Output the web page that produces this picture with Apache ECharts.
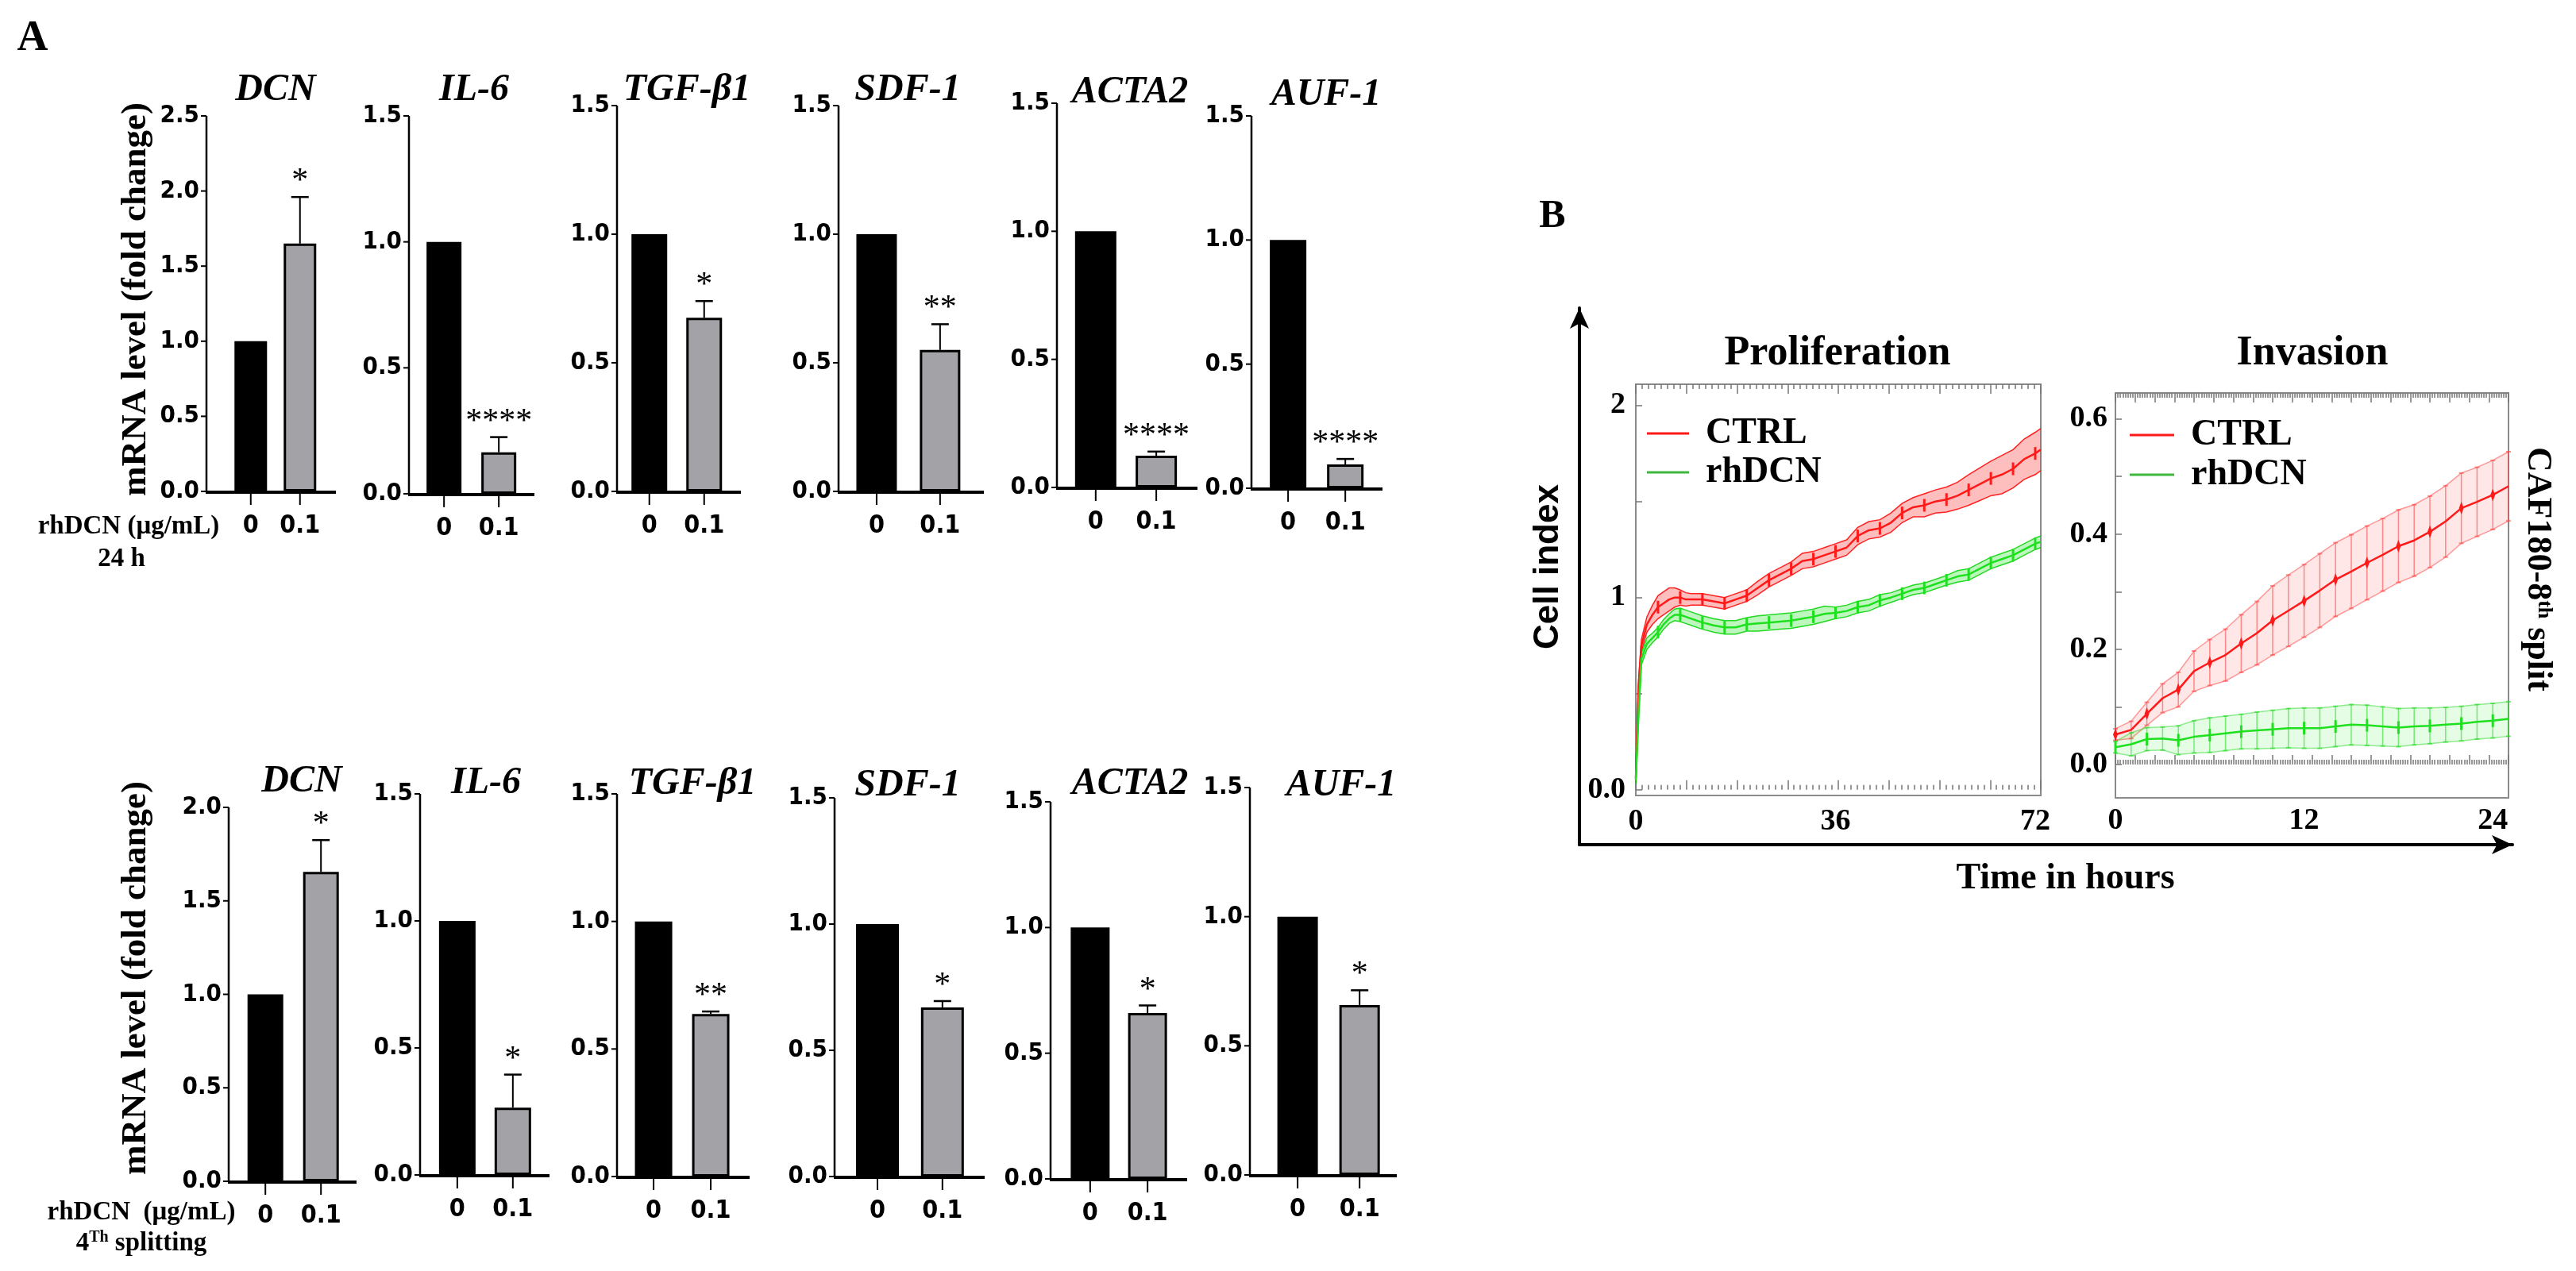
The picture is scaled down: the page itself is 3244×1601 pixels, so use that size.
<!DOCTYPE html>
<html>
<head>
<meta charset="utf-8">
<script src="https://cdn.jsdelivr.net/npm/echarts@6/dist/echarts.min.js"></script>
<style>
  html, body { margin: 0; padding: 0; background: #fff; }
  #chart { width: 3244px; height: 1601px; }
</style>
</head>
<body>
<div id="chart"></div>
<script>
// ---- panel A : qPCR bars ----
var genes = ['DCN', 'IL-6', 'TGF-β1', 'SDF-1', 'ACTA2', 'AUF-1'];
var doses = ['0', '0.1'];

var ctrl24h = [1, 1, 1, 1, 1, 1];
var rhdcn24h = [1.65, 0.165, 0.675, 0.55, 0.124, 0.096];
var sem24h = [0.31, 0.06, 0.065, 0.10, 0.016, 0.022];
var stars24h = ['*', '****', '*', '**', '****', '****'];
var yMax24h = [2.5, 1.5, 1.5, 1.5, 1.5, 1.5];

var ctrlSplit = [1, 1, 1, 1, 1, 1];
var rhdcnSplit = [1.655, 0.265, 0.637, 0.67, 0.66, 0.658];
var semSplit = [0.17, 0.13, 0.01, 0.025, 0.03, 0.057];
var starsSplit = ['*', '*', '**', '*', '*', '*'];
var yMaxSplit = [2.0, 1.5, 1.5, 1.5, 1.5, 1.5];

// ---- panel B : xCELLigence curves ----
var prolifHours = [0, 0.5, 1, 2, 3, 4, 5, 6, 7, 8, 9, 10, 12, 14, 16, 18, 20, 22, 24, 26, 28, 30, 32, 34, 36, 38,
  40, 42, 44, 46, 48, 50, 52, 54, 56, 58, 60, 62, 64, 66, 68, 70, 72, 73];
var prolifCtrl = [0.06, 0.54, 0.75, 0.86, 0.91, 0.95, 0.97, 0.99, 1.00, 1.00, 0.99, 0.99, 0.99, 0.98, 0.97, 0.99,
  1.01, 1.05, 1.09, 1.12, 1.15, 1.19, 1.20, 1.22, 1.24, 1.26, 1.32, 1.35, 1.36, 1.39, 1.44, 1.47, 1.48, 1.50,
  1.51, 1.53, 1.56, 1.59, 1.62, 1.64, 1.67, 1.72, 1.75, 1.77];
var prolifCtrlSd = [0.02, 0.03, 0.03, 0.04, 0.05, 0.06, 0.06, 0.06, 0.05, 0.04, 0.035, 0.03, 0.03, 0.03, 0.03, 0.03,
  0.03, 0.035, 0.035, 0.035, 0.035, 0.04, 0.04, 0.04, 0.04, 0.04, 0.045, 0.045, 0.045, 0.05, 0.05, 0.05, 0.06, 0.06,
  0.065, 0.07, 0.08, 0.085, 0.09, 0.1, 0.1, 0.105, 0.11, 0.11];
var prolifDcn = [0.05, 0.40, 0.68, 0.76, 0.79, 0.82, 0.86, 0.89, 0.91, 0.91, 0.90, 0.89, 0.87, 0.855, 0.845, 0.845,
  0.86, 0.865, 0.87, 0.875, 0.88, 0.89, 0.90, 0.915, 0.92, 0.93, 0.95, 0.96, 0.985, 1.00, 1.02, 1.04, 1.05, 1.07,
  1.09, 1.11, 1.12, 1.15, 1.18, 1.20, 1.22, 1.25, 1.28, 1.29];
var prolifDcnSd = [0.02, 0.03, 0.03, 0.03, 0.025, 0.025, 0.025, 0.025, 0.03, 0.035, 0.035, 0.035, 0.035, 0.035, 0.035,
  0.035, 0.035, 0.04, 0.04, 0.04, 0.04, 0.04, 0.04, 0.04, 0.03, 0.03, 0.03, 0.03, 0.03, 0.025, 0.025, 0.025, 0.025,
  0.025, 0.025, 0.03, 0.03, 0.03, 0.03, 0.03, 0.03, 0.03, 0.03, 0.03];

var invHours = [0, 1, 2, 3, 4, 5, 6, 7, 8, 9, 10, 11, 12, 13, 14, 15, 16, 17, 18, 19, 20, 21, 22, 23, 24, 25];
var invCtrl = [0.052, 0.060, 0.088, 0.115, 0.130, 0.162, 0.177, 0.190, 0.210, 0.228, 0.250, 0.267, 0.284, 0.302,
  0.321, 0.335, 0.350, 0.364, 0.379, 0.389, 0.404, 0.422, 0.445, 0.456, 0.468, 0.483];
var invCtrlSd = [0.01, 0.015, 0.02, 0.025, 0.03, 0.035, 0.04, 0.045, 0.05, 0.055, 0.06, 0.062, 0.063, 0.064, 0.064,
  0.064, 0.064, 0.063, 0.063, 0.062, 0.062, 0.062, 0.061, 0.06, 0.06, 0.06];
var invDcn = [0.030, 0.035, 0.044, 0.045, 0.042, 0.048, 0.051, 0.054, 0.057, 0.059, 0.061, 0.063, 0.063, 0.063,
  0.066, 0.069, 0.068, 0.066, 0.064, 0.066, 0.067, 0.069, 0.071, 0.074, 0.076, 0.079];
var invDcnSd = [0.01, 0.02, 0.02, 0.02, 0.025, 0.028, 0.03, 0.03, 0.03, 0.032, 0.033, 0.034, 0.035, 0.035, 0.035,
  0.035, 0.035, 0.034, 0.033, 0.032, 0.031, 0.03, 0.03, 0.03, 0.03, 0.03];

// ---- layout (pixels) ----
var SERIF = "'Liberation Serif', 'Times New Roman', serif";
var NARROW = "'Liberation Sans Narrow', 'DejaVu Sans Condensed', 'Liberation Sans', sans-serif";
var SANS = "'Liberation Sans', Arial, sans-serif";
var RED = '#ff1a1a';
var GREEN = '#1fe01f';
var PADL = 8, PADB = 22;   // room inside each bar grid for the axis frame

// axis x, end x, top y (max), zero y, x-range and bar width per panel
var layout24h = [
  { l: 260, r: 423, t: 146, z: 619, xmin: -0.9, xmax: 1.73, bw: 41 },
  { l: 515, r: 673, t: 146, z: 622, xmin: -0.64, xmax: 1.65, bw: 44 },
  { l: 777, r: 933, t: 133, z: 619, xmin: -0.59, xmax: 1.67, bw: 45 },
  { l: 1056, r: 1239, t: 133, z: 619, xmin: -0.6, xmax: 1.69, bw: 51 },
  { l: 1331, r: 1508, t: 130, z: 614, xmin: -0.64, xmax: 1.68, bw: 52 },
  { l: 1576, r: 1741, t: 146, z: 615, xmin: -0.64, xmax: 1.65, bw: 46 }
];
var layoutSplit = [
  { l: 288, r: 449, t: 1017, z: 1488, xmin: -0.66, xmax: 1.64, bw: 45 },
  { l: 529, r: 692, t: 1000, z: 1480, xmin: -0.67, xmax: 1.66, bw: 46 },
  { l: 777, r: 944, t: 1000, z: 1482, xmin: -0.64, xmax: 1.68, bw: 47 },
  { l: 1051, r: 1240, t: 1005, z: 1482, xmin: -0.66, xmax: 1.65, bw: 54 },
  { l: 1323, r: 1495, t: 1010, z: 1485, xmin: -0.69, xmax: 1.69, bw: 49 },
  { l: 1574, r: 1759, t: 992, z: 1480, xmin: -0.77, xmax: 1.6, bw: 51 }
];
var titles24h = [[347, 114], [597, 114], [865, 114], [1143, 114], [1423, 117], [1670, 120]];
var titlesSplit = [[380, 985], [612, 987], [872, 988], [1143, 990], [1423, 988], [1689, 990]];

var grids = [], xAxes = [], yAxes = [], series = [], graphics = [];

function seg(x1, y1, x2, y2, w) {
  return { type: 'line', z: 20, shape: { x1: x1, y1: y1, x2: x2, y2: y2 },
    style: { stroke: '#000', lineWidth: w } };
}

// error bar and star of the treated bar
function errorBar(star) {
  return function (params, api) {
    var x = api.value(0), m = api.value(1), s = api.value(2);
    var p0 = api.coord([x, m]);
    var p1 = api.coord([x, m + s]);
    return {
      type: 'group',
      children: [
        seg(p0[0], p0[1], p1[0], p1[1], 2),
        seg(p1[0] - 11, p1[1], p1[0] + 11, p1[1], 2.5),
        { type: 'text', x: p1[0], y: p1[1] + 2,
          style: { text: star, font: '42px ' + SERIF, fill: '#000', textAlign: 'center', align: 'center',
                   textVerticalAlign: 'bottom', verticalAlign: 'bottom' } }
      ]
    };
  };
}

function addBarPanel(L, ctrl, treat, sem, star, yMax, title) {
  var g = grids.length;
  var kx = (L.r - L.l) / (L.xmax - L.xmin);
  var ky = (L.z - L.t) / yMax;
  var yTicks = [];
  for (var v = 0; v <= yMax + 1e-9; v += 0.5) yTicks.push(Math.round(v * 10) / 10);
  grids.push({ left: L.l - PADL, top: L.t, width: L.r - L.l + PADL, height: L.z - L.t + PADB });
  xAxes.push({
    gridIndex: g, type: 'value', min: L.xmin - PADL / kx, max: L.xmax,
    axisLine: { show: false }, axisTick: { show: false },
    axisLabel: { customValues: [0, 1], margin: 6, color: '#000', fontFamily: NARROW, fontWeight: 'bold', fontSize: 32,
      formatter: function (v) { return doses[Math.round(v)]; } },
    splitLine: { show: false }
  });
  yAxes.push({
    gridIndex: g, type: 'value', min: -PADB / ky, max: yMax,
    axisLine: { show: false }, axisTick: { show: false },
    axisLabel: { customValues: yTicks, margin: 1, color: '#000', fontFamily: NARROW, fontWeight: 'bold', fontSize: 31,
      formatter: function (v) { return v.toFixed(1); } },
    splitLine: { show: false }
  });
  series.push({
    type: 'bar', xAxisIndex: g, yAxisIndex: g, barWidth: L.bw, silent: true,
    data: [
      { value: [0, ctrl], itemStyle: { color: '#000' } },
      { value: [1, treat], itemStyle: { color: '#a2a2a7', borderColor: '#000', borderWidth: 3 } }
    ]
  });
  series.push({
    type: 'custom', xAxisIndex: g, yAxisIndex: g, silent: true, z: 5, clip: false,
    data: [[1, treat, sem]],
    renderItem: errorBar(star)
  });
  // axis frame: x axis, y axis, ticks (pixel positions derived from the panel layout)
  graphics.push(seg(L.l - 1, L.z + 1, L.r, L.z + 1, 4));
  graphics.push(seg(L.l, L.z, L.l, L.t, 2.5));
  yTicks.forEach(function (t) {
    var y = L.z - t * ky;
    graphics.push(seg(L.l - 7, y, L.l, y, 2));
  });
  [0, 1].forEach(function (k) {
    var x = L.l + (k - L.xmin) * kx;
    graphics.push(seg(x, L.z + 3, x, L.z + 17, 2));
  });
  graphics.push({
    type: 'text', x: title[0], y: title[1],
    style: { text: title[2], font: 'italic bold 48px ' + SERIF, fill: '#000',
      textAlign: 'center', align: 'center', textVerticalAlign: 'middle', verticalAlign: 'middle' }
  });
}

for (var i = 0; i < genes.length; i++) {
  addBarPanel(layout24h[i], ctrl24h[i], rhdcn24h[i], sem24h[i], stars24h[i], yMax24h[i],
    [titles24h[i][0], titles24h[i][1], genes[i]]);
}
for (var j = 0; j < genes.length; j++) {
  addBarPanel(layoutSplit[j], ctrlSplit[j], rhdcnSplit[j], semSplit[j], starsSplit[j], yMaxSplit[j],
    [titlesSplit[j][0], titlesSplit[j][1], genes[j]]);
}

// ---- panel B helpers ----
function zip(xs, ys) {
  return xs.map(function (x, k) { return [x, ys[k]]; });
}
function bandRender(hours, mean, sd, fill, edge) {
  return function (params, api) {
    if (params.dataIndex !== 0) return;
    var up = [], lo = [];
    for (var k = 0; k < hours.length; k++) {
      up.push(api.coord([hours[k], mean[k] + sd[k]]));
      lo.push(api.coord([hours[k], mean[k] - sd[k]]));
    }
    return {
      type: 'group',
      children: [
        { type: 'polygon', shape: { points: up.concat(lo.slice().reverse()) }, style: { fill: fill } },
        { type: 'polyline', shape: { points: up }, style: { stroke: edge, lineWidth: 1.5, fill: 'none' } },
        { type: 'polyline', shape: { points: lo }, style: { stroke: edge, lineWidth: 1.5, fill: 'none' } }
      ]
    };
  };
}
function errRender(color) {
  return function (params, api) {
    var x = api.value(0), m = api.value(1), s = api.value(2);
    var a = api.coord([x, m + s]), b = api.coord([x, m - s]);
    return {
      type: 'group',
      children: [
        { type: 'line', shape: { x1: a[0], y1: a[1], x2: b[0], y2: b[1] }, style: { stroke: color, lineWidth: 1.5 } },
        { type: 'line', shape: { x1: a[0] - 3, y1: a[1], x2: a[0] + 3, y2: a[1] }, style: { stroke: color, lineWidth: 2 } },
        { type: 'line', shape: { x1: b[0] - 3, y1: b[1], x2: b[0] + 3, y2: b[1] }, style: { stroke: color, lineWidth: 2 } }
      ]
    };
  };
}
function boxAxes(g, xmax, xInterval, xLabels, ymin, ymax, yTicks, yLabels, yFmt, xMargin, yMargin) {
  var tickStyle = { color: '#777', width: 1.5 };
  xAxes.push({
    gridIndex: g, type: 'value', min: 0, max: xmax, interval: xInterval, position: 'bottom',
    axisLine: { show: false },
    axisTick: { show: true, inside: true, length: 12, lineStyle: tickStyle },
    minorTick: { show: true, splitNumber: 8, length: 6, lineStyle: tickStyle },
    axisLabel: { customValues: xLabels, margin: xMargin, color: '#000', fontFamily: SERIF, fontWeight: 'bold', fontSize: 38 },
    splitLine: { show: false }
  });
  xAxes.push({
    gridIndex: g, type: 'value', min: 0, max: xmax, interval: xInterval, position: 'top',
    axisLine: { show: false },
    axisTick: { show: true, inside: true, length: 12, lineStyle: tickStyle },
    minorTick: { show: true, splitNumber: 8, length: 6, lineStyle: tickStyle },
    axisLabel: { show: false },
    splitLine: { show: false }
  });
  yAxes.push({
    gridIndex: g, type: 'value', min: ymin, max: ymax,
    axisLine: { show: false, onZero: false },
    axisTick: { show: true, inside: true, length: 8, customValues: yTicks, lineStyle: tickStyle },
    axisLabel: { customValues: yLabels, margin: yMargin, color: '#000', fontFamily: SERIF, fontWeight: 'bold', fontSize: 38,
      formatter: yFmt },
    splitLine: { show: false }
  });
}

// proliferation grid
var gP = grids.length;
grids.push({ left: 2060, top: 484, width: 510, height: 518, show: true, borderColor: '#8a8a8a', borderWidth: 2 });
boxAxes(gP, 73, 9.125, [0, 36, 72], -0.03, 2.11, [0, 0.5, 1, 1.5, 2], [0, 1, 2],
  function (v) { return v === 0 ? '0.0' : String(v); }, 14, 13);
var xP = xAxes.length - 2;

series.push({ type: 'custom', xAxisIndex: xP, yAxisIndex: gP, silent: true, z: 2,
  data: zip(prolifHours, prolifCtrl), renderItem: bandRender(prolifHours, prolifCtrl, prolifCtrlSd, 'rgba(255,40,40,0.3)', 'rgba(255,0,0,0.85)') });
series.push({ type: 'custom', xAxisIndex: xP, yAxisIndex: gP, silent: true, z: 2,
  data: zip(prolifHours, prolifDcn), renderItem: bandRender(prolifHours, prolifDcn, prolifDcnSd, 'rgba(40,230,40,0.3)', 'rgba(0,210,0,0.85)') });
series.push({ name: 'CTRL', type: 'line', xAxisIndex: xP, yAxisIndex: gP, z: 3, data: zip(prolifHours, prolifCtrl),
  lineStyle: { color: RED, width: 2.5 }, itemStyle: { color: RED }, symbol: 'rect', showAllSymbol: true,
  symbolSize: function (v) { return (v[0] > 0 && v[0] % 4 === 0) ? [3, 16] : 0; } });
series.push({ name: 'rhDCN', type: 'line', xAxisIndex: xP, yAxisIndex: gP, z: 3, data: zip(prolifHours, prolifDcn),
  lineStyle: { color: GREEN, width: 2.5 }, itemStyle: { color: GREEN }, symbol: 'rect', showAllSymbol: true,
  symbolSize: function (v) { return (v[0] > 0 && v[0] % 4 === 0) ? [3, 16] : 0; } });

// invasion grid
var gI = grids.length;
grids.push({ left: 2664, top: 495, width: 495, height: 510, show: true, borderColor: '#8a8a8a', borderWidth: 2 });
boxAxes(gI, 25, 1.25, [0, 12, 24], -0.058, 0.645, [0, 0.1, 0.2, 0.3, 0.4, 0.5, 0.6], [0, 0.2, 0.4, 0.6],
  function (v) { return v.toFixed(1); }, 10, 10);
var xI = xAxes.length - 2;

series.push({ type: 'custom', xAxisIndex: xI, yAxisIndex: gI, silent: true, z: 1,
  data: zip(invHours, invCtrl), renderItem: bandRender(invHours, invCtrl, invCtrlSd, 'rgba(255,60,60,0.12)', 'rgba(255,60,60,0.5)') });
series.push({ type: 'custom', xAxisIndex: xI, yAxisIndex: gI, silent: true, z: 1,
  data: zip(invHours, invDcn), renderItem: bandRender(invHours, invDcn, invDcnSd, 'rgba(40,230,40,0.12)', 'rgba(40,220,40,0.5)') });
series.push({ type: 'custom', xAxisIndex: xI, yAxisIndex: gI, silent: true, z: 2,
  data: invHours.map(function (t, k) { return [t, invCtrl[k], invCtrlSd[k]]; }), renderItem: errRender('rgba(255,70,70,0.6)') });
series.push({ type: 'custom', xAxisIndex: xI, yAxisIndex: gI, silent: true, z: 2,
  data: invHours.map(function (t, k) { return [t, invDcn[k], invDcnSd[k]]; }), renderItem: errRender('rgba(40,220,40,0.6)') });
series.push({ name: 'CTRL', type: 'line', xAxisIndex: xI, yAxisIndex: gI, z: 3, data: zip(invHours, invCtrl),
  lineStyle: { color: RED, width: 2.5 }, itemStyle: { color: RED }, symbol: 'diamond', showAllSymbol: true,
  symbolSize: function (v) { return v[0] % 2 === 0 ? [6, 16] : 0; } });
series.push({ name: 'rhDCN', type: 'line', xAxisIndex: xI, yAxisIndex: gI, z: 3, data: zip(invHours, invDcn),
  lineStyle: { color: GREEN, width: 2.5 }, itemStyle: { color: GREEN }, symbol: 'rect', showAllSymbol: true,
  symbolSize: function (v) { return v[0] % 2 === 0 ? [3, 16] : 0; } });

// big arrow axes around panel B
var gA = grids.length;
grids.push({ left: 1989, top: 388, width: 1175, height: 676 });
var arrowAxis = {
  gridIndex: gA, type: 'value', min: 0, max: 1,
  axisLine: { show: true, onZero: false, symbol: ['none', 'arrow'], symbolSize: [18, 26], lineStyle: { color: '#000', width: 4 } },
  axisTick: { show: false }, axisLabel: { show: false }, splitLine: { show: false }
};
xAxes.push(Object.assign({}, arrowAxis));
yAxes.push(Object.assign({}, arrowAxis));

// ---- texts ----
function txt(x, y, text, font, rot, rich) {
  var s = { text: text, font: font, fill: '#000', textAlign: 'center', align: 'center',
    textVerticalAlign: 'middle', verticalAlign: 'middle' };
  if (rich) s.rich = rich;
  return { type: 'text', x: x, y: y, rotation: rot || 0, style: s };
}
graphics.push(txt(41, 49, 'A', 'bold 54px ' + SERIF));
graphics.push(txt(1955, 273, 'B', 'bold 50px ' + SERIF));
graphics.push(txt(171, 377, 'mRNA level (fold change)', 'bold 45px ' + SERIF, Math.PI / 2));
graphics.push(txt(171, 1232, 'mRNA level (fold change)', 'bold 45px ' + SERIF, Math.PI / 2));
graphics.push(txt(162, 663, 'rhDCN (μg/mL)', 'bold 33px ' + SERIF));
graphics.push(txt(153, 704, '24 h', 'bold 33px ' + SERIF));
graphics.push(txt(178, 1527, 'rhDCN  (μg/mL)', 'bold 33px ' + SERIF));
var supRich = {
  a: { fontFamily: SERIF, fontWeight: 'bold', fontSize: 33, lineHeight: 36 },
  s: { fontFamily: SERIF, fontWeight: 'bold', fontSize: 20, lineHeight: 36, padding: [0, 0, 14, 0] }
};
graphics.push(txt(178, 1566, '{a|4}{s|Th}{a| splitting}', 'bold 33px ' + SERIF, 0, supRich));
graphics.push(txt(2314, 446, 'Proliferation', 'bold 52px ' + SERIF));
graphics.push(txt(2912, 446, 'Invasion', 'bold 52px ' + SERIF));
graphics.push(txt(1950, 714, 'Cell index', 'bold 44px ' + SANS, Math.PI / 2));
graphics.push(txt(2601, 1107, 'Time in hours', 'bold 46px ' + SERIF));
var supRich2 = {
  a: { fontFamily: SERIF, fontWeight: 'bold', fontSize: 44, lineHeight: 48 },
  s: { fontFamily: SERIF, fontWeight: 'bold', fontSize: 26, lineHeight: 48, padding: [0, 0, 18, 0] }
};
graphics.push(txt(3195, 717, '{a|CAF180-8}{s|th}{a| split}', 'bold 44px ' + SERIF, -Math.PI / 2, supRich2));

var legendText = { fontFamily: SERIF, fontWeight: 'bold', fontSize: 46, lineHeight: 46, color: '#000', padding: [0, 0, 0, 16] };
var legendData = [{ name: 'CTRL', itemStyle: { color: RED } }, { name: 'rhDCN', itemStyle: { color: '#3fb83f' } }];

var chart = echarts.init(document.getElementById('chart'));
chart.setOption({
  animation: false,
  backgroundColor: '#fff',
  grid: grids,
  xAxis: xAxes,
  yAxis: yAxes,
  legend: [
    { left: 2069, top: 518, orient: 'vertical', itemGap: 3, icon: 'rect', itemWidth: 53, itemHeight: 3,
      selectedMode: false, data: legendData, textStyle: legendText },
    { left: 2677, top: 520, orient: 'vertical', itemGap: 4, icon: 'rect', itemWidth: 56, itemHeight: 3,
      selectedMode: false, data: legendData, textStyle: legendText }
  ],
  graphic: { elements: graphics },
  series: series
});
</script>
</body>
</html>
